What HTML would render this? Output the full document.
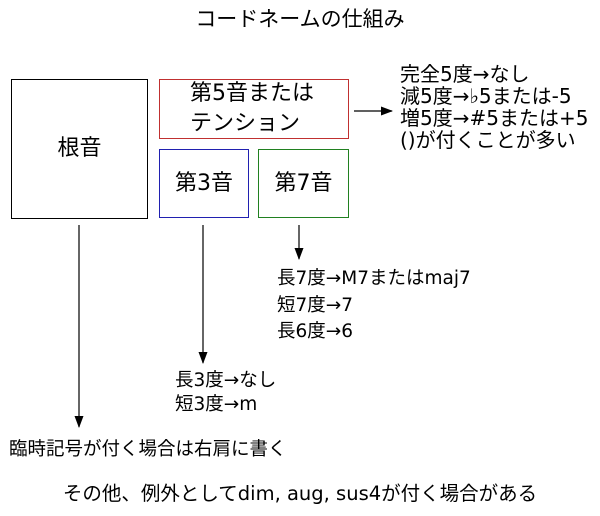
<!DOCTYPE html>
<html><head><meta charset="utf-8"><style>
body{margin:0;width:600px;height:516px;background:#fff;position:relative;font-family:"DejaVu Sans","Noto Sans CJK JP",sans-serif;color:#000;overflow:hidden}
.t{position:absolute;white-space:nowrap;font-size:18.5px;line-height:22px}
.b{position:absolute;box-sizing:border-box;border:1px solid #000;display:flex;align-items:center;justify-content:center;text-align:center;font-size:22px;line-height:30px}
</style></head><body>
<div class="t" style="left:0;width:600px;text-align:center;top:8px;font-size:21px">コードネームの仕組み</div>
<div class="b" style="left:11px;top:79px;width:137px;height:140px">根音</div>
<div class="b" style="left:159px;top:79px;width:190px;height:60px;border-color:#c03030;text-align:left;justify-content:flex-start;padding-left:30px">第5音または<br>テンション</div>
<div class="b" style="left:159px;top:149px;width:90px;height:69px;border-color:#2020b0">第3音</div>
<div class="b" style="left:258px;top:149px;width:91px;height:69px;border-color:#208020">第7音</div>
<svg width="600" height="516" style="position:absolute;left:0;top:0">
<defs><marker id="a" markerWidth="12" markerHeight="9" refX="11" refY="4.5" orient="auto" markerUnits="userSpaceOnUse"><path d="M0,0L12,4.5L0,9z"/></marker></defs>
<g stroke="#000" stroke-width="1.2" fill="none" marker-end="url(#a)">
<line x1="354" y1="111" x2="392" y2="111"/>
<line x1="79" y1="225" x2="79" y2="427"/>
<line x1="203" y1="225" x2="203" y2="363"/>
<line x1="299" y1="225" x2="299" y2="259"/>
</g></svg>
<div class="t" style="left:400px;top:63px;font-size:20px">完全5度→なし<br>減5度→♭5または-5<br>増5度→#5または+5<br>()が付くことが多い</div>
<div class="t" style="left:277px;top:266px;line-height:26.5px">長7度→M7またはmaj7<br>短7度→7<br>長6度→6</div>
<div class="t" style="left:175px;top:369px;line-height:24px">長3度→なし<br>短3度→m</div>
<div class="t" style="left:9px;top:439px">臨時記号が付く場合は右肩に書く</div>
<div class="t" style="left:0;width:600px;text-align:center;top:483px;font-size:19.5px">その他、例外としてdim, aug, sus4が付く場合がある</div>
</body></html>
